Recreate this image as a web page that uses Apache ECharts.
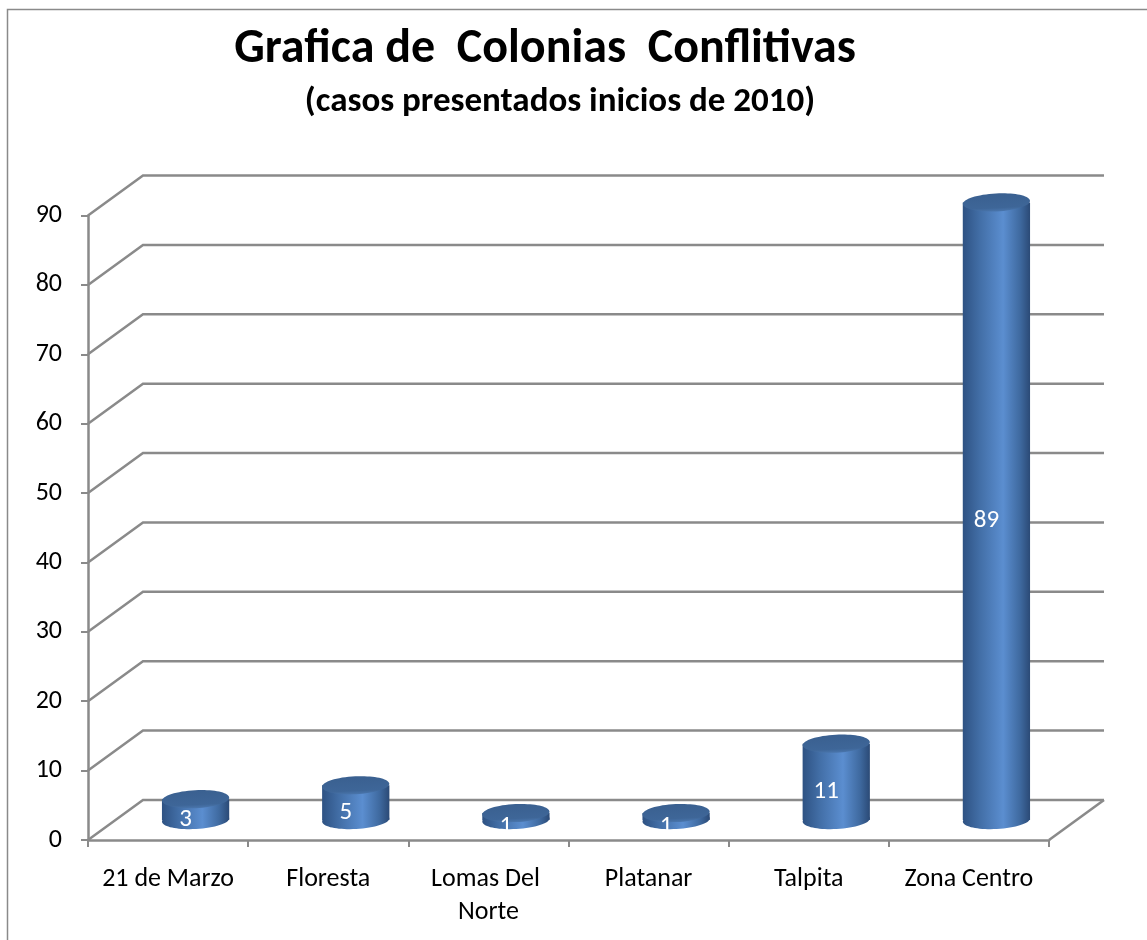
<!DOCTYPE html>
<html>
<head>
<meta charset="utf-8">
<script src="https://cdn.jsdelivr.net/npm/echarts@6/dist/echarts.min.js"></script>
<style>
html,body{margin:0;padding:0;background:#fff;}
#chart{width:1147px;height:940px;}
</style>
</head>
<body>
<div id="chart"></div>
<script>
var categories = ['21 de Marzo', 'Floresta', 'Lomas Del Norte', 'Platanar', 'Talpita', 'Zona Centro'];
var values = [3, 5, 1, 1, 11, 89];
var yTicks = [0, 10, 20, 30, 40, 50, 60, 70, 80, 90];
var titleText = 'Grafica de  Colonias  Conflitivas';
var subtitleText = '(casos presentados inicios de 2010)';

var FONT = 'Carlito, "Open Sans", "Noto Sans", sans-serif';
var DX = 55, DY = -40;
var GRID_COLOR = '#8a8a8a';
var TILT = 0.05;

var chart = echarts.init(document.getElementById('chart'), null, {renderer: 'canvas'});

function wallItem(params, api) {
  var v = api.value(1);
  var n = categories.length;
  var bw = api.size([1, 0])[0];
  var pL = api.coord([0, v]);
  var pR = api.coord([n - 1, v]);
  var lx = pL[0] - bw / 2, rx = pR[0] + bw / 2, y = pL[1];
  var children = [{
    type: 'polyline',
    shape: {points: [[lx, y], [lx + DX, y + DY], [rx + DX, y + DY]]},
    style: {stroke: GRID_COLOR, lineWidth: 2.5, fill: null}
  }];
  if (v === 0) {
    children.push({
      type: 'line',
      shape: {x1: rx, y1: y, x2: rx + DX, y2: y + DY},
      style: {stroke: GRID_COLOR, lineWidth: 2.5}
    });
  }
  return {type: 'group', children: children};
}

function barItem(params, api) {
  var i = api.value(0), v = api.value(1);
  var top = api.coord([i, v]);
  var base = api.coord([i, 0]);
  var bw = api.size([1, 0])[0];
  var cx = top[0] + DX / 2;
  var topY = top[1] + DY / 2;
  var baseY = base[1] + DY / 2;
  var r = bw * 0.21, ry = 9;
  var bodyFill = new echarts.graphic.LinearGradient(0, 0, 1, 0, [
    {offset: 0, color: '#2e5283'},
    {offset: 0.25, color: '#426ea6'},
    {offset: 0.6, color: '#5b8ed0'},
    {offset: 0.85, color: '#3f6aa0'},
    {offset: 1, color: '#2b4a76'}
  ]);
  var topFill = new echarts.graphic.LinearGradient(0, 0, 0, 1, [
    {offset: 0, color: '#3a6090'},
    {offset: 0.8, color: '#3e6698'},
    {offset: 1, color: '#4a76ad'}
  ]);
  return {
    type: 'group',
    children: [
      {type: 'ellipse', shape: {cx: 0, cy: 0, rx: r, ry: ry}, x: cx, y: baseY, rotation: TILT,
       style: {fill: bodyFill}},
      {type: 'rect', shape: {x: cx - r, y: topY, width: 2 * r, height: baseY - topY}, style: {fill: bodyFill}},
      {type: 'ellipse', shape: {cx: 0, cy: 0, rx: r, ry: ry}, x: cx, y: topY, rotation: TILT,
       style: {fill: topFill}},
      {type: 'text', style: {
        text: String(v), x: cx - 10, y: (topY + baseY) / 2 + 10,
        fill: '#ffffff', fontSize: 25, fontFamily: FONT,
        align: 'center', verticalAlign: 'middle'
      }}
    ]
  };
}

var option = {
  animation: false,
  backgroundColor: '#ffffff',
  graphic: [
    {type: 'rect', shape: {x: 7.5, y: 9.5, width: 1300, height: 1100},
     style: {fill: null, stroke: '#8a8a8a', lineWidth: 1.5}, z: 0},
    {type: 'text', x: 545, y: 50, style: {text: titleText, fill: '#000', fontSize: 48,
      fontWeight: 'bold', fontFamily: FONT, align: 'center', verticalAlign: 'middle'}},
    {type: 'text', x: 560, y: 102, style: {text: subtitleText, fill: '#000', fontSize: 35,
      fontWeight: 'bold', fontFamily: FONT, align: 'center', verticalAlign: 'middle'}}
  ],
  grid: {left: 88, right: 98, top: 215.5, bottom: 100, containLabel: false},
  xAxis: {
    type: 'category',
    data: categories,
    boundaryGap: true,
    axisLine: {show: true, lineStyle: {color: GRID_COLOR, width: 2.5}},
    axisTick: {show: true, alignWithLabel: false, interval: 0, length: 7, lineStyle: {color: GRID_COLOR, width: 2}},
    axisLabel: {interval: 0, margin: 23, fontSize: 26, color: '#000', fontFamily: FONT,
      width: 150, overflow: 'break', lineHeight: 33}
  },
  yAxis: {
    type: 'value',
    min: 0, max: 90, interval: 10,
    axisLine: {show: true, lineStyle: {color: GRID_COLOR, width: 2.5}},
    axisTick: {show: true, length: 7, lineStyle: {color: GRID_COLOR, width: 2}},
    splitLine: {show: false},
    axisLabel: {margin: 26, fontSize: 26, color: '#000', fontFamily: FONT}
  },
  series: [
    {
      type: 'custom',
      renderItem: wallItem,
      data: yTicks.map(function (t) { return [0, t]; }),
      silent: true,
      z: 1
    },
    {
      type: 'custom',
      renderItem: barItem,
      data: values.map(function (v, i) { return [i, v]; }),
      z: 3
    }
  ]
};
chart.setOption(option);
</script>
</body>
</html>
